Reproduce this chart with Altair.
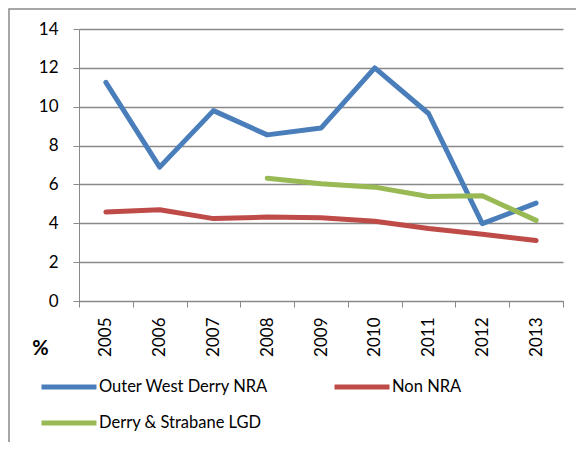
import altair as alt
import pandas as pd

years = ["2005", "2006", "2007", "2008", "2009", "2010", "2011", "2012", "2013"]
series_names = ["Outer West Derry NRA", "Derry & Strabane LGD", "Non NRA"]
outer_west = [11.25, 6.89, 9.8, 8.55, 8.9, 12.0, 9.65, 3.98, 5.04]
non_nra = [4.58, 4.7, 4.24, 4.32, 4.29, 4.1, 3.73, 3.44, 3.11]
lgd = [None, None, None, 6.32, 6.03, 5.86, 5.38, 5.42, 4.15]
colors = ["#4A7EBB", "#98B954", "#BE4B48"]
y_ticks = [0, 2, 4, 6, 8, 10, 12, 14]

rows = []
for name, vals in zip(series_names, [outer_west, lgd, non_nra]):
    for yr, v in zip(years, vals):
        if v is not None:
            rows.append({"year": yr, "value": v, "series": name})
df = pd.DataFrame(rows)

GRAY = "#898989"

lines = alt.Chart(df).mark_line(strokeWidth=5, strokeCap="round", strokeJoin="round").encode(
    x=alt.X("year:O", sort=years, bandPosition=0.5,
            scale=alt.Scale(type="band", paddingInner=0, paddingOuter=0),
            axis=alt.Axis(title=None, tickBand="extent", labelAngle=270, labelAlign="right",
                          labelBaseline="middle", labelPadding=10, tickSize=6,
                          domainColor=GRAY, tickColor=GRAY, labelFontSize=17,
                          grid=False)),
    y=alt.Y("value:Q", scale=alt.Scale(domain=[0, 14], nice=False),
            axis=alt.Axis(values=y_ticks, title="%", titleAngle=0, titleX=-39, titleY=319,
                          titleAlign="center", titleBaseline="middle", titleFontSize=20,
                          titleFontWeight="bold", tickSize=6, labelPadding=15,
                          labelFontSize=17, domainColor=GRAY, tickColor=GRAY,
                          grid=True, gridColor=GRAY, gridWidth=1.4)),
    color=alt.Color("series:N", sort=series_names,
                    scale=alt.Scale(domain=series_names, range=colors),
                    legend=alt.Legend(orient="none", legendX=-40, legendY=348, columns=2,
                                      symbolType="stroke", symbolSize=3025,
                                      symbolStrokeWidth=5, clipHeight=20, labelOffset=0,
                                      columnPadding=63, rowPadding=16, labelFontSize=16.5,
                                      title=None, padding=0, labelLimit=0)),
    detail="series:N",
)

frame = alt.Chart(alt.Data(values=[{"a": 1}])).mark_rect(
    fill="transparent", stroke=GRAY, strokeWidth=1.5
).encode(
    x=alt.value(-70), x2=alt.value(700), y=alt.value(-20), y2=alt.value(600)
)

chart = alt.layer(frame, lines).properties(
    width=484, height=272,
    padding={"left": 71, "top": 21, "right": 13, "bottom": 141},
    autosize=alt.AutoSizeParams(type="none"),
).configure(font="Lato").configure_view(stroke=None).configure_axis(
    labelColor="black", titleColor="black", labelFont="Lato", titleFont="Lato"
).configure_legend(labelFont="Lato", labelColor="black")

chart.save("out.html", embed_options={"renderer": "svg", "actions": False})
